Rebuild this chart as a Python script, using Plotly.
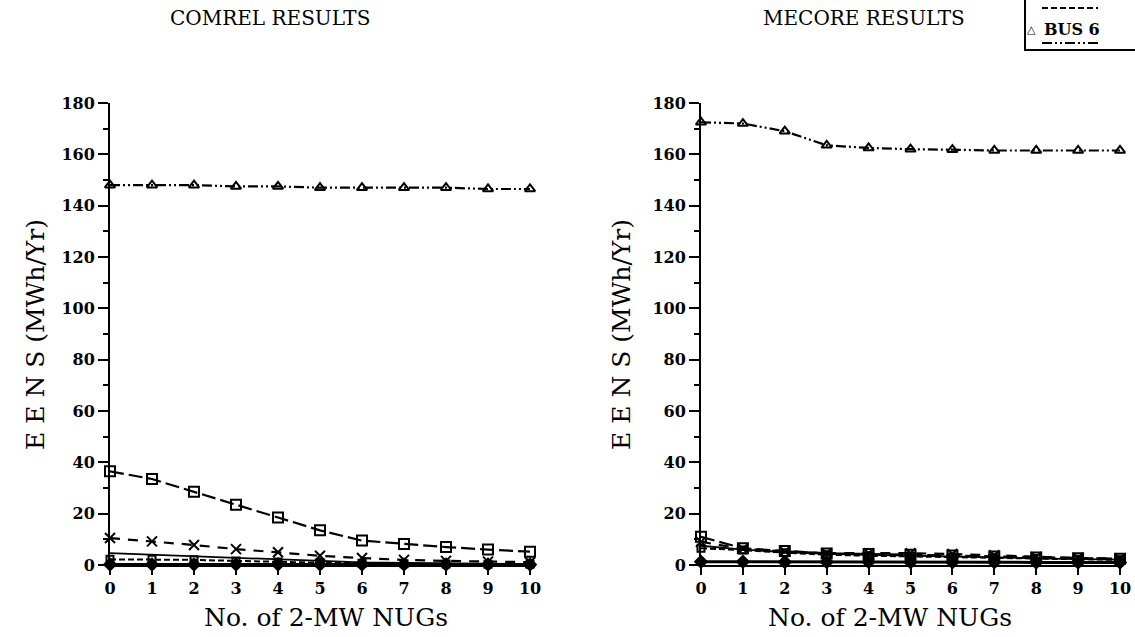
import plotly.graph_objects as go

W, H = 1135, 637

# ---------------- data ----------------
nugs = [0, 1, 2, 3, 4, 5, 6, 7, 8, 9, 10]
x_tick_labels = ["0", "1", "2", "3", "4", "5", "6", "7", "8", "9", "10"]
y_tick_values = [0, 20, 40, 60, 80, 100, 120, 140, 160, 180]

comrel_bus6 = [148, 148, 148, 147.5, 147.5, 147, 147, 147, 147, 146.5, 146.5]
comrel_bus3 = [36.5, 33.5, 28.5, 23.5, 18.5, 13.5, 9.5, 8.2, 7.0, 6.0, 5.2]
comrel_bus4 = [10.5, 9.2, 7.8, 6.2, 5.0, 3.6, 2.7, 2.0, 1.6, 1.3, 1.1]
comrel_bus5 = [2.2, 2.2, 2.0, 1.6, 1.2, 0.9, 0.7, 0.5, 0.4, 0.3, 0.3]
comrel_bus1 = [4.6, 4.0, 3.4, 2.7, 2.0, 1.4, 1.0, 0.8, 0.6, 0.5, 0.4]
comrel_bus2 = [0.2, 0.2, 0.2, 0.2, 0.2, 0.2, 0.2, 0.2, 0.2, 0.2, 0.2]

mecore_bus6 = [172.5, 172, 169, 163.5, 162.5, 162, 161.8, 161.5, 161.5, 161.5, 161.5]
mecore_bus3 = [11.0, 6.5, 5.5, 4.5, 4.3, 4.0, 3.7, 3.3, 2.9, 2.6, 2.4]
mecore_bus4 = [9.0, 6.3, 5.3, 4.6, 4.6, 4.6, 4.3, 3.8, 3.1, 2.7, 2.5]
mecore_bus5 = [6.5, 5.8, 4.8, 4.0, 3.6, 3.4, 3.1, 2.8, 2.5, 2.2, 2.0]
mecore_bus1 = [7.5, 6.0, 5.0, 4.3, 4.0, 3.6, 3.3, 3.0, 2.6, 2.3, 2.1]
mecore_bus2 = [1.3, 1.3, 1.2, 1.2, 1.2, 1.1, 1.1, 1.1, 1.0, 1.0, 1.0]

# ---------------- styles ----------------
SERIF = "DejaVu Serif"
BLACK = "black"
DASH6 = "10px,3px,2px,3px,2px,3px"

styles = {
    "BUS 6": dict(dash=DASH6, width=2.2, symbol="triangle-up-open", size=9),
    "BUS 3": dict(dash="14px,5px", width=2.2, symbol="square-open", size=10),
    "BUS 4": dict(dash="10px,8px", width=2.2, symbol="x-thin-open", size=10),
    "BUS 5": dict(dash="6px,3px", width=2, symbol="square-open", size=7),
    "BUS 1": dict(dash="solid", width=1.8, symbol=None, size=0),
    "BUS 2": dict(dash="solid", width=3, symbol="diamond", size=9),
}

fig = go.Figure()


def add_series(name, values, xa, ya):
    st = styles[name]
    mode = "lines+markers" if st["symbol"] else "lines"
    marker = dict(color=BLACK, size=st["size"], line=dict(color=BLACK, width=2))
    if st["symbol"]:
        marker["symbol"] = st["symbol"]
    fig.add_trace(go.Scatter(
        x=nugs, y=values, name=name, mode=mode, xaxis=xa, yaxis=ya,
        line=dict(color=BLACK, width=st["width"], dash=st["dash"]),
        marker=marker, cliponaxis=False, showlegend=False,
    ))


for name, vals in [("BUS 2", comrel_bus2), ("BUS 1", comrel_bus1), ("BUS 5", comrel_bus5),
                   ("BUS 4", comrel_bus4), ("BUS 3", comrel_bus3), ("BUS 6", comrel_bus6)]:
    add_series(name, vals, "x", "y")
for name, vals in [("BUS 2", mecore_bus2), ("BUS 1", mecore_bus1), ("BUS 5", mecore_bus5),
                   ("BUS 4", mecore_bus4), ("BUS 3", mecore_bus3), ("BUS 6", mecore_bus6)]:
    add_series(name, vals, "x2", "y2")


def px_x(p):
    return p / W


def px_y(p):
    return 1 - p / H


ydom = [px_y(565), px_y(103)]
tickfont = dict(family=SERIF, size=16, color=BLACK, weight="bold")

xcommon = dict(range=[0, 10], tickvals=nugs, ticktext=x_tick_labels, showline=True,
               linewidth=2, linecolor=BLACK, ticks="outside", ticklen=8, tickwidth=2,
               tickcolor=BLACK, showgrid=False, zeroline=False, tickfont=tickfont)
ycommon = dict(range=[0, 180], tickvals=y_tick_values, showline=True, linewidth=2,
               linecolor=BLACK, ticks="outside", ticklen=10, tickwidth=2, tickcolor=BLACK,
               showgrid=False, zeroline=False, tickfont=tickfont,
               minor=dict(dtick=10, ticks="outside", ticklen=5, tickwidth=2, tickcolor=BLACK))

fig.update_layout(
    width=W, height=H,
    margin=dict(l=0, r=0, t=0, b=0, autoexpand=False),
    paper_bgcolor="white", plot_bgcolor="white", showlegend=False,
    xaxis=dict(domain=[px_x(110), px_x(530)], anchor="y", **xcommon),
    yaxis=dict(domain=ydom, anchor="x", **ycommon),
    xaxis2=dict(domain=[px_x(701), px_x(1120)], anchor="y2", **xcommon),
    yaxis2=dict(domain=ydom, anchor="x2", **ycommon),
)

titlefont = dict(family=SERIF, size=20, color=BLACK)
axfont = dict(family=SERIF, size=25, color=BLACK)


def ann(text, x, y, font, angle=0, xanchor="center"):
    fig.add_annotation(text=text, x=px_x(x), y=px_y(y), xref="paper", yref="paper",
                       showarrow=False, font=font, textangle=angle, xanchor=xanchor,
                       yanchor="middle")


ann("COMREL RESULTS", 270, 18, titlefont)
ann("MECORE RESULTS", 864, 18, titlefont)
ann("No. of 2-MW NUGs", 326, 617, axfont)
ann("No. of 2-MW NUGs", 890, 617, axfont)
ann("E E N S (MWh/Yr)", 35, 335, axfont, angle=-90)
ann("E E N S (MWh/Yr)", 621, 335, axfont, angle=-90)

# ---------------- legend box (cut off at top-right, as in the source) ----------------
fig.add_shape(type="rect", xref="paper", yref="paper", x0=px_x(1025), x1=px_x(1145),
              y0=px_y(50), y1=px_y(-20), line=dict(color=BLACK, width=2),
              fillcolor="white", layer="above")
legfont = dict(family=SERIF, size=16, color=BLACK, weight="bold")
ann("BUS 5", 1042, -6, legfont, xanchor="left")
ann("BUS 6", 1042, 30, legfont, xanchor="left")
ann("△", 1031, 30, dict(family="DejaVu Sans", size=11, color=BLACK, weight="bold"))
fig.add_shape(type="line", xref="paper", yref="paper", x0=px_x(1042), x1=px_x(1098),
              y0=px_y(8), y1=px_y(8), line=dict(color=BLACK, width=2, dash="6px,3px"))
fig.add_shape(type="line", xref="paper", yref="paper", x0=px_x(1042), x1=px_x(1098),
              y0=px_y(43), y1=px_y(43), line=dict(color=BLACK, width=2, dash=DASH6))

fig.write_html(
    "out.html",
    config={"displayModeBar": False},
    post_script="document.body.style.margin='0';document.body.style.overflow='hidden';",
)
